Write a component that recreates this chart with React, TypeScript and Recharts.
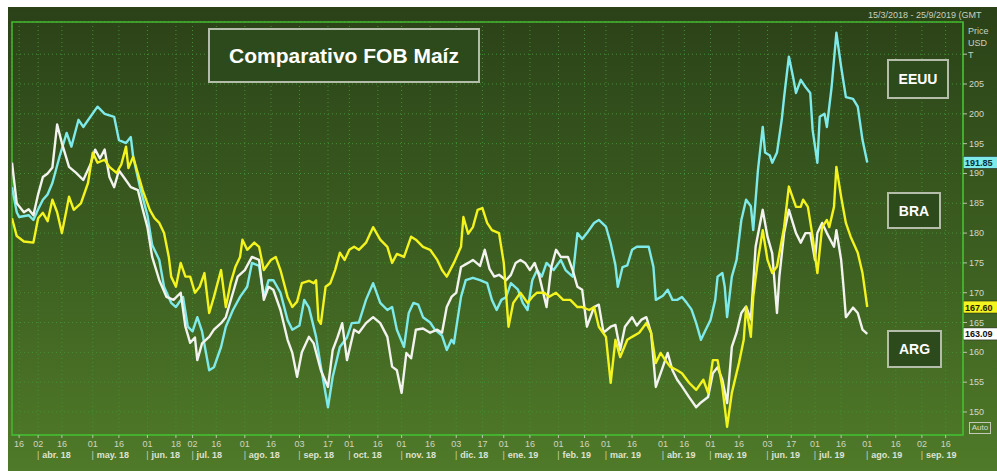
import React from "react";
import {
  LineChart,
  Line,
  XAxis,
  YAxis,
  CartesianGrid,
  ReferenceLine,
  ReferenceArea,
} from "recharts";

// Session index (trading days from chart start) -> price USD/T
const eeuu: [number, number][] = [
  [0, 187.7], [2, 183.5], [3, 182.7], [7, 183.0], [9, 182.2], [11, 184.0], [13, 185.6], [15, 186.5],
  [17, 188.4], [20, 192.8], [23, 196.8], [25, 194.5], [28, 199.0], [30, 197.8], [33, 199.5], [36, 201.2],
  [39, 200.0], [43, 199.5], [45, 195.6], [48, 195.1], [50, 196.1], [51, 192.8], [54, 187.5], [57, 183.0],
  [59, 178.0], [62, 175.5], [64, 171.0], [67, 168.3], [69, 167.6], [72, 169.3], [74, 164.3], [76, 163.5],
  [78, 165.9], [80, 163.5], [83, 157.0], [85, 157.5], [88, 160.9], [90, 164.3], [93, 167.1], [96, 169.3],
  [99, 171.0], [101, 175.0], [104, 174.5], [106, 169.3], [108, 172.1], [110, 172.1], [113, 170.0], [116, 165.4],
  [118, 163.8], [121, 164.5], [123, 168.8], [125, 167.5], [128, 162.6], [130, 157.6], [133, 150.8], [135, 155.9],
  [138, 160.9], [141, 162.5], [143, 164.9], [146, 165.0], [149, 168.8], [152, 171.6], [155, 168.3], [158, 167.1],
  [160, 167.6], [162, 163.8], [165, 160.9], [167, 166.6], [169, 168.3], [171, 168.0], [173, 165.9], [176, 165.0],
  [178, 163.8], [181, 162.8], [183, 160.4], [185, 162.1], [186, 161.5], [189, 169.3], [191, 172.1], [194, 172.5],
  [197, 172.1], [200, 171.6], [202, 168.8], [204, 167.1], [206, 168.8], [208, 169.3], [210, 171.6], [213, 170.5],
  [215, 168.3], [217, 167.1], [219, 172.1], [221, 173.8], [223, 172.7], [225, 175.0], [228, 173.8], [231, 175.5],
  [233, 173.8], [236, 172.7], [238, 180.0], [240, 179.0], [242, 180.0], [245, 181.7], [247, 182.2], [250, 181.1],
  [252, 178.3], [254, 174.6], [255, 171.0], [257, 174.3], [259, 174.6], [261, 177.2], [263, 177.7], [266, 177.7],
  [268, 177.7], [270, 174.3], [271, 168.8], [274, 169.5], [276, 170.5], [278, 168.8], [280, 168.8], [282, 169.3],
  [284, 168.3], [286, 167.2], [288, 164.9], [290, 162.1], [292, 163.8], [294, 165.4], [296, 168.8], [297, 172.7],
  [299, 173.3], [300, 171.0], [301, 165.9], [303, 172.7], [305, 175.5], [307, 182.2], [309, 185.6], [311, 184.5],
  [312, 180.5], [314, 190.6], [316, 197.8], [317, 193.5], [319, 193.0], [320, 191.8], [322, 193.5], [324, 199.0],
  [325, 202.8], [327, 209.6], [329, 205.7], [330, 203.5], [332, 205.7], [334, 204.5], [336, 203.5], [337, 197.3],
  [339, 191.8], [340, 199.5], [342, 200.0], [343, 197.8], [345, 204.5], [347, 213.6], [349, 207.9], [351, 202.8],
  [354, 202.5], [356, 201.2], [358, 195.6], [360, 191.85],
];

const bra: [number, number][] = [
  [0, 182.5], [2, 179.5], [5, 178.6], [9, 178.4], [11, 182.5], [13, 183.4], [15, 182.0], [17, 185.6],
  [19, 183.5], [21, 180.0], [23, 184.0], [24, 186.1], [26, 183.9], [29, 185.0], [32, 188.4], [34, 193.5],
  [36, 191.8], [39, 192.3], [41, 191.1], [44, 190.1], [46, 191.5], [48, 194.5], [49, 190.9], [51, 192.8],
  [53, 190.0], [55, 187.2], [58, 183.9], [60, 182.5], [62, 181.7], [64, 180.0], [66, 176.0], [67, 172.7],
  [69, 171.0], [71, 175.0], [73, 172.7], [75, 172.7], [77, 170.0], [79, 171.0], [81, 173.3], [83, 166.6],
  [85, 169.3], [88, 173.8], [90, 167.6], [92, 171.6], [94, 174.3], [96, 176.0], [97, 178.9], [99, 177.2],
  [102, 178.4], [104, 177.7], [106, 173.8], [109, 175.5], [111, 176.0], [113, 173.8], [116, 169.3], [118, 167.6],
  [120, 168.5], [122, 171.6], [125, 172.0], [127, 171.6], [128, 172.1], [129, 165.4], [130, 164.8], [132, 171.0],
  [134, 171.6], [136, 173.8], [138, 176.7], [140, 175.5], [142, 177.2], [144, 177.7], [146, 177.2], [149, 178.4],
  [152, 181.0], [155, 178.9], [158, 177.7], [160, 175.0], [162, 176.5], [165, 176.0], [168, 179.4], [170, 178.9],
  [173, 177.7], [176, 177.2], [179, 175.5], [181, 173.8], [183, 172.7], [186, 175.0], [189, 177.7], [190, 182.7],
  [192, 179.9], [194, 181.0], [196, 183.9], [198, 184.2], [200, 181.7], [202, 180.5], [205, 180.0], [207, 175.0],
  [209, 164.3], [211, 168.3], [214, 170.0], [217, 168.3], [219, 169.3], [221, 170.0], [224, 170.0], [226, 169.3],
  [229, 170.0], [232, 168.8], [235, 168.8], [238, 167.6], [240, 167.6], [243, 167.1], [245, 167.6], [247, 164.3],
  [250, 162.6], [252, 154.9], [254, 162.1], [256, 159.2], [259, 162.1], [261, 162.6], [264, 163.3], [267, 164.9],
  [269, 163.3], [271, 158.2], [273, 159.9], [275, 158.7], [277, 157.6], [280, 157.0], [282, 156.5], [285, 154.9],
  [288, 153.7], [291, 155.4], [293, 153.2], [295, 158.7], [297, 158.7], [299, 154.2], [301, 147.5], [303, 153.2],
  [306, 158.2], [308, 162.1], [309, 167.6], [311, 162.6], [312, 169.3], [314, 175.5], [316, 180.5], [318, 175.5],
  [320, 173.3], [322, 174.4], [325, 181.0], [327, 187.8], [330, 184.4], [332, 184.4], [333, 185.6], [335, 184.4],
  [337, 179.4], [339, 173.3], [341, 181.0], [343, 182.2], [344, 181.0], [346, 184.4], [347, 191.1], [349, 186.1],
  [351, 181.7], [353, 179.4], [356, 176.7], [358, 173.3], [360, 167.6],
];

const arg: [number, number][] = [
  [0, 191.8], [2, 185.0], [5, 183.5], [7, 184.0], [9, 183.0], [11, 186.5], [13, 189.4], [15, 190.0],
  [17, 191.0], [19, 198.2], [21, 195.1], [24, 191.1], [27, 190.1], [30, 188.9], [33, 191.5], [35, 194.0],
  [37, 192.5], [39, 194.0], [41, 189.4], [43, 187.7], [45, 190.5], [47, 189.4], [50, 187.7], [53, 187.2],
  [55, 184.0], [57, 181.0], [59, 176.0], [62, 172.1], [65, 169.3], [68, 168.8], [71, 170.0], [73, 164.3],
  [75, 161.6], [77, 162.5], [78, 158.7], [80, 161.5], [83, 162.6], [85, 163.8], [88, 164.9], [90, 165.9],
  [93, 170.0], [95, 172.7], [98, 173.8], [101, 176.0], [104, 175.5], [106, 168.8], [108, 171.0], [110, 170.5],
  [113, 167.1], [116, 162.1], [118, 159.9], [120, 155.9], [122, 160.0], [125, 162.6], [127, 161.5], [130, 157.0],
  [133, 154.2], [135, 160.4], [137, 162.5], [139, 164.9], [141, 158.7], [144, 163.8], [146, 163.3], [149, 164.9],
  [152, 165.9], [155, 164.9], [158, 162.6], [160, 157.6], [162, 157.0], [164, 153.2], [166, 159.9], [168, 159.0],
  [170, 163.8], [173, 164.0], [176, 163.3], [179, 163.8], [181, 163.3], [183, 167.6], [185, 169.3], [187, 170.0],
  [189, 174.3], [192, 175.0], [194, 175.5], [197, 174.5], [199, 177.2], [201, 174.0], [203, 172.7], [205, 173.0],
  [208, 172.1], [210, 173.0], [212, 175.0], [214, 175.5], [216, 175.0], [218, 173.8], [220, 175.0], [222, 172.7],
  [225, 167.6], [227, 174.3], [229, 177.2], [231, 176.0], [234, 176.0], [236, 173.8], [238, 171.0], [240, 170.5],
  [242, 164.3], [245, 167.6], [247, 168.0], [249, 163.3], [252, 164.3], [254, 164.6], [256, 160.4], [258, 164.3],
  [261, 165.9], [263, 164.5], [265, 165.5], [267, 165.9], [269, 163.3], [271, 154.2], [274, 157.6], [276, 159.9],
  [278, 157.0], [280, 155.4], [282, 154.3], [285, 152.5], [288, 150.8], [290, 151.6], [293, 152.5], [295, 156.5],
  [297, 157.5], [299, 155.4], [301, 151.5], [303, 160.9], [305, 163.3], [307, 166.6], [309, 167.7], [311, 165.5],
  [313, 177.7], [316, 183.9], [318, 179.4], [320, 176.6], [322, 166.6], [323, 172.7], [325, 180.0], [327, 183.9],
  [330, 180.0], [332, 178.4], [334, 180.0], [336, 180.0], [338, 175.5], [339, 180.0], [341, 181.7], [343, 180.0],
  [346, 177.7], [347, 180.5], [349, 175.5], [350, 171.0], [351, 165.9], [354, 167.5], [356, 166.6], [358, 163.8],
  [360, 163.09],
];

const dayTicks: [number, string][] = [
  [3, "16"], [11, "02"], [21, "16"], [34, "01"], [45, "16"], [57, "01"], [69, "18"], [76, "02"],
  [86, "16"], [98, "01"], [109, "16"], [121, "03"], [133, "17"], [142, "01"], [154, "16"], [164, "01"],
  [176, "16"], [187, "03"], [198, "17"], [207, "01"], [218, "16"], [230, "01"], [241, "16"], [250, "01"],
  [261, "16"], [274, "01"], [283, "16"], [294, "01"], [306, "16"], [318, "03"], [328, "17"], [338, "01"],
  [349, "16"], [360, "01"], [372, "16"], [383, "02"], [393, "16"],
];

const monthTicks: [number, string][] = [
  [11, "abr. 18"], [34, "may. 18"], [57, "jun. 18"], [76, "jul. 18"], [98, "ago. 18"], [121, "sep. 18"],
  [142, "oct. 18"], [164, "nov. 18"], [187, "dic. 18"], [207, "ene. 19"], [230, "feb. 19"], [250, "mar. 19"],
  [274, "abr. 19"], [294, "may. 19"], [318, "jun. 19"], [338, "jul. 19"], [360, "ago. 19"], [383, "sep. 19"],
];

const priceTicks = [150, 155, 160, 165, 170, 175, 180, 185, 190, 195, 200, 205, 210];
const xDomain: [number, number] = [0, 400.3];
const yDomain: [number, number] = [146.14, 215.4];

const series = [
  { name: "EEUU", color: "#7eeaea", tagText: "#08303a", tagBg: "#7eeaea", rows: eeuu },
  { name: "ARG", color: "#f2f2ee", tagText: "#111111", tagBg: "#ffffff", rows: arg },
  { name: "BRA", color: "#f3f31e", tagText: "#222200", tagBg: "#f3f31e", rows: bra },
];

const FONT = "'Liberation Sans', Arial, sans-serif";
const dayMap = new Map(dayTicks);
const monthMap = new Map(monthTicks);

const DayTick = (props: any) => {
  const { x, y, payload } = props;
  return (
    <text x={x} y={y + 7} textAnchor="middle" fontSize={9} fill="#cdd5bf" fontFamily={FONT}>
      {dayMap.get(payload.value)}
    </text>
  );
};

const MonthTick = (props: any) => {
  const { x, y, payload } = props;
  return (
    <g>
      <text x={x} y={y + 9} textAnchor="middle" fontSize={9} fill="#c8d0bb" fontFamily={FONT}>
        |
      </text>
      <text x={x + 4} y={y + 9} textAnchor="start" fontSize={9} fontWeight="bold" fill="#dde3d2" fontFamily={FONT}>
        {monthMap.get(payload.value)}
      </text>
    </g>
  );
};

const PriceTick = (props: any) => {
  const { x, y, payload } = props;
  if (payload.value > 205) return null;
  return (
    <text x={x} y={y + 3} textAnchor="start" fontSize={9} fill="#d2d8c6" fontFamily={FONT}>
      {payload.value}
    </text>
  );
};

const makeTag = (text: string, bg: string, fg: string) => (props: any) => {
  const vb = props.viewBox || {};
  const x0 = vb.x + vb.width;
  const yc = vb.y;
  return (
    <g>
      <rect x={x0} y={yc - 6} width={40} height={12} fill={bg} stroke="#1a1a1a" strokeWidth={0.5} />
      <text x={x0 + 2} y={yc + 3.5} fontSize={9} fontWeight="bold" fill={fg} fontFamily={FONT}>
        {text}
      </text>
    </g>
  );
};

const boxStyle: React.CSSProperties = {
  position: "absolute",
  background: "#2d4a1d",
  border: "2px solid #b4bdaa",
  color: "#ffffff",
  fontFamily: "'Liberation Sans', Arial, sans-serif",
  fontWeight: "bold",
  display: "flex",
  alignItems: "center",
  justifyContent: "center",
  boxSizing: "border-box",
};

export default function App() {
  return (
    <div style={{ position: "absolute", left: 0, top: 0, width: 997, height: 471, background: "#ffffff", overflow: "hidden" }}>
      <div
        style={{
          position: "absolute",
          left: 8,
          top: 7,
          width: 989,
          height: 464,
          background: "linear-gradient(to bottom, #2b4118 0%, #33501c 25%, #3d5f21 55%, #4a7226 85%, #4f7a29 100%)",
        }}
      />
      <div style={{ position: "absolute", left: 0, top: 0 }}>
        <LineChart width={997} height={471} margin={{ top: 22, right: 0, left: 12, bottom: 0 }}>
          <CartesianGrid stroke="#3f9330" strokeDasharray="1 3" strokeWidth={1} />
          <XAxis
            dataKey="t"
            type="number"
            domain={xDomain}
            ticks={dayTicks.map((d) => d[0])}
            tick={<DayTick />}
            tickSize={3}
            tickMargin={2}
            height={14}
            stroke="#46b830"
            tickLine={{ stroke: "#b9c4a8" }}
            allowDataOverflow
            interval={0}
          />
          <XAxis
            xAxisId="m"
            dataKey="t"
            type="number"
            domain={xDomain}
            ticks={monthTicks.map((d) => d[0])}
            tick={<MonthTick />}
            tickSize={0}
            tickMargin={0}
            tickLine={false}
            axisLine={false}
            height={22}
            allowDataOverflow
            interval={0}
          />
          <YAxis
            orientation="right"
            type="number"
            domain={yDomain}
            ticks={priceTicks}
            tick={<PriceTick />}
            tickSize={4}
            tickMargin={2}
            width={34}
            stroke="#46b830"
            tickLine={{ stroke: "#b9c4a8" }}
            allowDataOverflow
            interval={0}
          />
          <ReferenceArea
            x1={xDomain[0]}
            x2={xDomain[1]}
            y1={yDomain[0]}
            y2={yDomain[1]}
            fill="none"
            stroke="#46b830"
            strokeWidth={1.5}
            ifOverflow="visible"
          />
          {series.map((s) => (
            <Line
              key={s.name}
              data={s.rows.map(([t, v]) => ({ t, v }))}
              dataKey="v"
              type="linear"
              stroke={s.color}
              strokeWidth={2.4}
              strokeLinejoin="round"
              dot={false}
              activeDot={false}
              isAnimationActive={false}
            />
          ))}
          {series.map((s) => {
            const last = s.rows[s.rows.length - 1][1];
            const Tag = makeTag(last.toFixed(2), s.tagBg, s.tagText);
            return (
              <ReferenceLine
                key={"tag" + s.name}
                y={last}
                stroke="none"
                strokeOpacity={0}
                ifOverflow="visible"
                label={<Tag />}
              />
            );
          })}
        </LineChart>
      </div>

      <div style={{ position: "absolute", left: 868, top: 10, fontSize: 9, color: "#c9d0bd", fontFamily: FONT, whiteSpace: "nowrap" }}>
        15/3/2018 - 25/9/2019 (GMT
      </div>
      <div style={{ position: "absolute", left: 968, top: 25, fontSize: 9, lineHeight: "12px", color: "#c9d0bd", fontFamily: FONT }}>
        Price
        <br />
        USD
        <br />
        T
      </div>

      <div style={{ ...boxStyle, left: 208, top: 28, width: 272, height: 55, fontSize: 21 }}>Comparativo FOB Maíz</div>
      <div style={{ ...boxStyle, left: 887, top: 59, width: 62, height: 40, fontSize: 14 }}>EEUU</div>
      <div style={{ ...boxStyle, left: 887, top: 192, width: 54, height: 37, fontSize: 14 }}>BRA</div>
      <div style={{ ...boxStyle, left: 887, top: 330, width: 55, height: 38, fontSize: 14 }}>ARG</div>

      <div
        style={{
          position: "absolute",
          left: 969,
          top: 422,
          width: 22,
          height: 12,
          border: "1px solid #c2c9b6",
          boxSizing: "border-box",
          color: "#d8ddd0",
          fontSize: 8,
          lineHeight: "10px",
          textAlign: "center",
          fontFamily: FONT,
        }}
      >
        Auto
      </div>
    </div>
  );
}
